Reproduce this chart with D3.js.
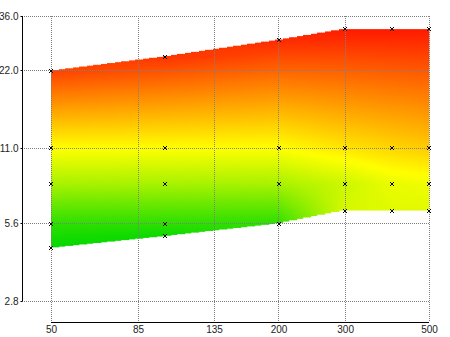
<!DOCTYPE html>
<html><head><meta charset="utf-8">
<script src="https://cdn.jsdelivr.net/npm/d3@7"></script>
<style>
html,body{margin:0;padding:0;background:#fff;}
svg{display:block;}
text{font-family:"Liberation Sans Narrow","Liberation Sans",Arial,sans-serif;font-size:10px;fill:#222;}
</style></head>
<body><svg id="chart" width="450" height="337"></svg>
<script>
// ---- data ----
const xValues      = [50, 100, 200, 300, 400, 500];
const seriesTop    = [22, 25, 29, 32, 32, 32];
const series11     = [11, 11, 11, 11, 11, 11];
const series8      = [8, 8, 8, 8, 8, 8];
const series56     = [5.6, 5.6, 5.6, null, null, null];
const seriesBottom = [4.5, 5.0, null, 6.3, 6.3, 6.3];
// colour level of each point (0 = green, 50 = yellow, 100 = red)
const levelTop     = [87, 90, 92, 95, 95, 95];
const level11      = [50, 50, 50, 55, 58, 60];
const level8       = [33, 33, 33, 40, 46, 47];
const level56      = [9, 9, 9, null, null, null];
const levelBottom  = [0, 2, null, 42, 44, 44];
const xTickValues  = [50, 85, 135, 200, 300, 500];
const yTickValues  = [2.8, 5.6, 11, 22, 36];
const yTickLabels  = ["2.8", "5.6", "11.0", "22.0", "36.0"];

const series = [seriesTop, series11, series8, series56, seriesBottom];
const levels = [levelTop, level11, level8, level56, levelBottom];

const svg = d3.select("#chart");
const x = d3.scaleLog().domain([50, 500]).range([51, 429]);
const y = d3.scaleLog().domain([2.8, 36]).range([301, 16]);
const color = d3.scaleLinear().domain([0, 50, 100])
  .range(["#00d800", "#ffff00", "#ff0000"]).interpolate(d3.interpolateRgb).clamp(true);

const columns = xValues.map((xv, j) => {
  const pts = [];
  series.forEach((s, k) => { if (s[j] != null) pts.push({v: s[j], z: levels[k][j], py: y(s[j])}); });
  pts.sort((a, b) => a.py - b.py);
  return {xv, pts, top: pts[0].v, bottom: pts[pts.length - 1].v};
});
function zAt(col, py) {
  const p = col.pts;
  if (py <= p[0].py) return p[0].z;
  if (py >= p[p.length - 1].py) return p[p.length - 1].z;
  for (let i = 0; i < p.length - 1; i++) {
    if (py >= p[i].py && py <= p[i + 1].py) {
      const t = (py - p[i].py) / (p[i + 1].py - p[i].py);
      return p[i].z + t * (p[i + 1].z - p[i].z);
    }
  }
  return p[0].z;
}
function locate(xc) {
  const xv = x.invert(xc);
  let i = 0;
  while (i < xValues.length - 2 && xv > xValues[i + 1]) i++;
  const t = Math.max(0, Math.min(1, (Math.log(xv) - Math.log(xValues[i])) / (Math.log(xValues[i + 1]) - Math.log(xValues[i]))));
  return {i, t};
}
const lerpLog = (a, b, t) => Math.exp(Math.log(a) + t * (Math.log(b) - Math.log(a)));

// ---- surface strips (stepped outline like the original) ----
const defs = svg.append("defs");
const strips = [];
const x0 = x(xValues[0]), x1 = x(xValues[xValues.length - 1]);
const sw = 2, step = 7;
for (let px = x0; px < x1; px += sw) {
  const xc = Math.min(px + sw / 2, x1);
  const {i, t} = locate(xc);
  const ca = columns[i], cb = columns[i + 1];
  // outline taken at the start of each 7px step
  const gx = Math.min(x0 + Math.floor((px - x0) / step) * step + step, x1);
  const g = locate(gx);
  const ga = columns[g.i], gb = columns[g.i + 1];
  const yt = y(lerpLog(ga.top, gb.top, g.t));
  const yb = y(lerpLog(ga.bottom, gb.bottom, g.t));
  const stops = [];
  for (let py = yt; py <= yb + 0.001; py += 3) {
    stops.push({o: (py - yt) / (yb - yt), c: color(zAt(ca, py) * (1 - t) + zAt(cb, py) * t)});
  }
  stops.push({o: 1, c: color(zAt(ca, yb) * (1 - t) + zAt(cb, yb) * t)});
  strips.push({px, w: Math.min(sw, x1 - px), yt, yb, stops, id: "g" + strips.length});
}
defs.selectAll("linearGradient").data(strips).join("linearGradient")
  .attr("id", d => d.id).attr("x1", 0).attr("y1", 0).attr("x2", 0).attr("y2", 1)
  .selectAll("stop").data(d => d.stops).join("stop")
  .attr("offset", d => d.o).attr("stop-color", d => d.c);
svg.append("g").selectAll("rect").data(strips).join("rect")
  .attr("x", d => d.px).attr("y", d => d.yt)
  .attr("width", d => d.w + 0.3).attr("height", d => d.yb - d.yt)
  .attr("fill", d => `url(#${d.id})`);

// ---- grid ----
const snap = v => Math.floor(v) + 0.5;
const grid = svg.append("g").attr("stroke", "#808080").attr("stroke-dasharray", "1,1").attr("stroke-width", 1);
grid.selectAll("line.h").data(yTickValues).join("line").attr("class", "h")
  .attr("x1", 22).attr("x2", 430).attr("y1", d => snap(y(d))).attr("y2", d => snap(y(d)));
grid.selectAll("line.v").data(xTickValues).join("line").attr("class", "v")
  .attr("x1", d => snap(x(d))).attr("x2", d => snap(x(d))).attr("y1", 16).attr("y2", 322);

// ---- axes ----
const yAxis = svg.append("g").attr("transform", "translate(22.5,0)")
  .call(d3.axisLeft(y).tickValues(yTickValues).tickFormat((d, i) => yTickLabels[i]).tickSize(2).tickPadding(2));
yAxis.select(".domain").attr("d", `M0,${y(36)}V${y(2.8)}`).attr("stroke", "#000");
yAxis.selectAll(".tick line").attr("stroke", "#000");
yAxis.selectAll(".tick").attr("transform", d => `translate(0,${snap(y(d))})`);
yAxis.selectAll("text").attr("font-family", null).attr("font-size", null).attr("fill", "#222");

const xAxis = svg.append("g").attr("transform", "translate(0,322.5)")
  .call(d3.axisBottom(x).tickValues(xTickValues).tickFormat(d3.format("d")).tickSize(0).tickPadding(3));
xAxis.select(".domain").attr("d", `M${x(50)},0H${x(500)}`).attr("stroke", "#000");
xAxis.selectAll("text").attr("font-family", null).attr("font-size", null).attr("fill", "#222");

// ---- markers ----
const pts = [];
series.forEach(s => s.forEach((v, j) => { if (v != null) pts.push({xv: xValues[j], v}); }));
svg.append("g").selectAll("path").data(pts).join("path")
  .attr("transform", d => `translate(${Math.round(x(d.xv))},${Math.round(y(d.v))})`)
  .attr("d", "M-2,-2L2,2M-2,2L2,-2").attr("stroke", "#000").attr("stroke-width", 1).attr("fill", "none");
</script></body></html>
